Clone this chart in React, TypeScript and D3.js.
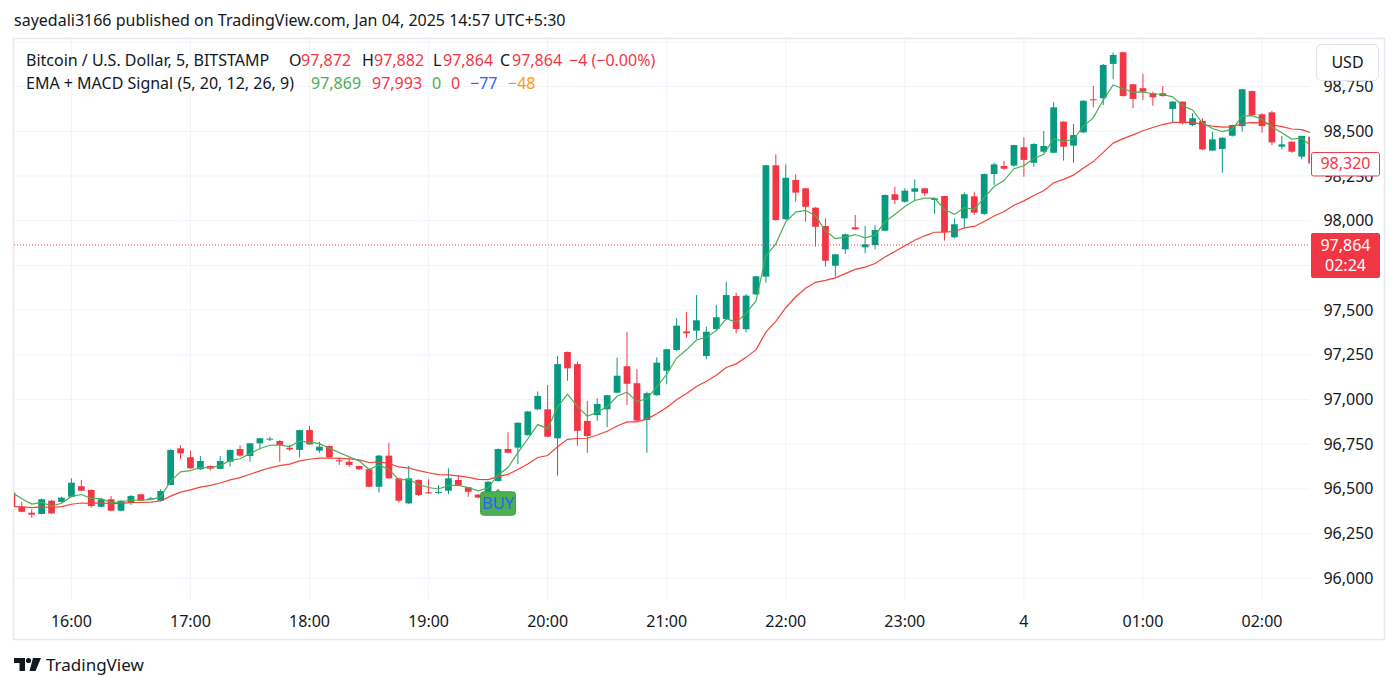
import React from 'react';
import * as d3 from 'd3';

// ---- data (5-minute BTC/USD bars) ----
const START_TIME = new Date(2025, 0, 3, 15, 30);
const BAR_MINUTES = 5;

const OPEN = [
  96480, 96400, 96367, 96360, 96434, 96427, 96456, 96515, 96494, 96400, 96442, 96378, 96423, 96470, 96440, 96434,
  96522, 96727, 96677, 96610, 96628, 96612, 96652, 96723, 96684, 96755, 96778, 96768, 96730, 96718, 96829, 96714,
  96740, 96660, 96652, 96628, 96610, 96512, 96686, 96559, 96419, 96550, 96481, 96478, 96490, 96550, 96509, 96468,
  96453, 96544, 96723, 96731, 96801, 96945, 96945, 96783, 97266, 97198, 96880, 96913, 96945, 97038, 97186, 97091,
  96885, 97024, 97161, 97277, 97381, 97385, 97243, 97394, 97450, 97579, 97393, 97588, 97687, 98310, 98008, 98228,
  98181, 98073, 97970, 97748, 97840, 97963, 97851, 97864, 97944, 98148, 98106, 98162, 98181, 98116, 98138, 97907,
  98013, 98136, 98038, 98261, 98306, 98308, 98411, 98324, 98386, 98380, 98554, 98420, 98494, 98679, 98685, 98877,
  98942, 98763, 98741, 98713, 98713, 98625, 98666, 98535, 98558, 98392, 98401, 98475, 98529, 98725, 98595, 98606,
  98414, 98442, 98358, 98470,
];
const HIGH = [
  96490, 96428, 96386, 96447, 96438, 96456, 96559, 96550, 96498, 96447, 96460, 96436, 96466, 96473, 96455, 96498,
  96721, 96745, 96714, 96684, 96630, 96684, 96720, 96744, 96757, 96785, 96792, 96773, 96745, 96831, 96852, 96764,
  96742, 96677, 96677, 96630, 96615, 96690, 96758, 96562, 96628, 96554, 96554, 96522, 96615, 96578, 96511, 96471,
  96543, 96726, 96817, 96872, 96936, 97045, 97081, 97243, 97268, 97211, 96992, 97007, 97026, 97234, 97378, 97171,
  97044, 97236, 97283, 97454, 97489, 97584, 97407, 97529, 97659, 97597, 97590, 97691, 98312, 98371, 98315, 98260,
  98183, 98075, 98013, 97814, 97929, 98032, 97970, 97976, 98146, 98190, 98181, 98232, 98183, 98127, 98140, 98013,
  98158, 98162, 98265, 98324, 98334, 98425, 98467, 98433, 98502, 98662, 98556, 98541, 98673, 98755, 98877, 98940,
  98945, 98765, 98821, 98722, 98753, 98668, 98668, 98601, 98573, 98498, 98466, 98537, 98737, 98727, 98601, 98615,
  98474, 98444, 98476, 98478,
];
const LOW = [
  96395, 96369, 96339, 96358, 96360, 96423, 96453, 96487, 96395, 96396, 96376, 96375, 96410, 96432, 96438, 96431,
  96520, 96667, 96611, 96606, 96602, 96610, 96624, 96680, 96652, 96721, 96768, 96652, 96712, 96677, 96746, 96702,
  96671, 96634, 96624, 96606, 96509, 96479, 96557, 96423, 96416, 96460, 96473, 96471, 96470, 96516, 96456, 96448,
  96450, 96540, 96699, 96639, 96797, 96941, 96789, 96574, 97105, 96742, 96702, 96880, 96845, 97035, 96969, 96878,
  96702, 97021, 97085, 97271, 97346, 97337, 97225, 97389, 97446, 97370, 97376, 97584, 97653, 97998, 98004, 98106,
  97994, 97855, 97743, 97687, 97814, 97950, 97818, 97840, 97942, 98092, 98101, 98116, 98140, 98038, 97889, 97902,
  97959, 98032, 98032, 98200, 98284, 98302, 98246, 98302, 98380, 98377, 98336, 98324, 98489, 98634, 98647, 98791,
  98694, 98629, 98675, 98643, 98694, 98548, 98539, 98529, 98395, 98390, 98268, 98470, 98498, 98586, 98492, 98423,
  98399, 98380, 98343, 98300,
];
const CLOSE = [
  96400, 96372, 96356, 96442, 96363, 96451, 96535, 96490, 96404, 96442, 96378, 96434, 96460, 96434, 96447, 96488,
  96718, 96699, 96615, 96656, 96613, 96656, 96718, 96686, 96755, 96783, 96781, 96746, 96721, 96829, 96749, 96736,
  96677, 96654, 96634, 96610, 96512, 96686, 96559, 96434, 96559, 96466, 96475, 96483, 96559, 96520, 96484, 96451,
  96540, 96723, 96702, 96870, 96933, 97020, 96792, 97198, 97174, 96825, 96796, 96975, 97024, 97133, 97088, 96882,
  97035, 97206, 97281, 97413, 97370, 97443, 97379, 97460, 97584, 97394, 97581, 97689, 98310, 98004, 98240, 98157,
  98078, 97966, 97776, 97812, 97924, 97952, 97868, 97948, 98144, 98116, 98168, 98181, 98153, 98125, 97937, 97980,
  98148, 98045, 98261, 98315, 98291, 98423, 98340, 98429, 98418, 98634, 98414, 98479, 98671, 98675, 98871, 98927,
  98697, 98681, 98722, 98690, 98697, 98666, 98545, 98573, 98399, 98455, 98464, 98535, 98735, 98591, 98529, 98438,
  98427, 98386, 98474, 98320,
];

const EMA_FAST_PERIOD = 5;
const EMA_SLOW_PERIOD = 20;
const EMA_FAST_SEED = 96481; // fast EMA value at first bar
const EMA_SLOW_SEED = 96402; // slow EMA value at first bar

const PRICE_TICKS = [96000, 96250, 96500, 96750, 97000, 97250, 97500, 97750, 98000, 98250, 98500, 98750, 99000];
const LAST_PRICE = 97864;
const LAST_PRICE_TIMER = '02:24';
const LAST_VISIBLE_PRICE = 98320;
const BUY_BAR = 49;

const HEADER = 'sayedali3166 published on TradingView.com, Jan 04, 2025 14:57 UTC+5:30';
const SYMBOL_TITLE = 'Bitcoin / U.S. Dollar, 5, BITSTAMP';
const OHLC_LABELS = ['O', 'H', 'L', 'C'];
const OHLC_VALUES = ['97,872', '97,882', '97,864', '97,864'];
const CHANGE_TEXT = '−4 (−0.00%)';
const INDICATOR_TITLE = 'EMA + MACD Signal (5, 20, 12, 26, 9)';
const INDICATOR_VALUES = ['97,869', '97,993', '0', '0', '−77', '−48'];

// ---- styles ----
const FONT = "'Noto Sans', 'Liberation Sans', sans-serif";
const UP = '#089981';
const DOWN = '#f23645';
const TEXT = '#131722';
const GRID = '#f0f3fa';
const FAST_COLOR = '#4caf50';
const SLOW_COLOR = '#f44336';
const IND_COLORS = ['#4caf50', '#f23645', '#4caf50', '#f23645', '#2962ff', '#ff9800'];

const PANE = { left: 14, top: 39, right: 1310, bottom: 600 };

function ema(values: number[], period: number, seed: number): number[] {
  const k = 2 / (period + 1);
  let e = seed;
  return values.map((v, i) => {
    if (i === 0) return e;
    e = e + k * (v - e);
    return e;
  });
}

export default function App() {
  const times = CLOSE.map((_, i) => new Date(START_TIME.getTime() + i * BAR_MINUTES * 60000));
  const x = d3
    .scaleTime()
    .domain([new Date(2025, 0, 3, 16, 0), new Date(2025, 0, 4, 2, 0)])
    .range([71.4, 1262]);
  const y = d3.scaleLinear().domain([96000, 98000]).range([578.3, 220.7]);

  const barStep = x(new Date(2025, 0, 3, 16, 5)) - x(new Date(2025, 0, 3, 16, 0));
  const bodyW = barStep * 0.68;

  const fast = ema(CLOSE, EMA_FAST_PERIOD, EMA_FAST_SEED);
  const slow = ema(CLOSE, EMA_SLOW_PERIOD, EMA_SLOW_SEED);
  const line = d3
    .line<number>()
    .x((_, i) => x(times[i]))
    .y((d) => y(d));

  const hourTicks = x.ticks(d3.timeHour.every(1) as any);
  const fmtHour = d3.timeFormat('%H:%M');
  const fmtPrice = d3.format(',');

  const buyX = x(times[BUY_BAR]);
  const buyTop = y(LOW[BUY_BAR]) + 7;

  const lastY = y(LAST_PRICE);
  const visY = y(LAST_VISIBLE_PRICE);
  const lastBox = { top: lastY - 12, bottom: lastY + 33 };

  // axis labels fully hidden behind the last-price box are not drawn (as in the reference)
  const axisTicks = PRICE_TICKS.filter(
    (p) => y(p) > 60 && !(y(p) - 7 > lastBox.top && y(p) + 7 < lastBox.bottom)
  );

  const ohlcX = [289, 362, 433, 500];
  const ohlcValX = [301, 374, 443, 512];
  const indX = [311, 372, 432, 451, 470, 508];

  return (
    <svg
      width={1400}
      height={690}
      style={{ position: 'absolute', left: 0, top: 0, background: '#fff' }}
      fontFamily={FONT}
    >
      <defs>
        <clipPath id="pane">
          <rect x={PANE.left} y={PANE.top} width={PANE.right - PANE.left} height={PANE.bottom - PANE.top} />
        </clipPath>
      </defs>
      <rect x={0} y={0} width={1400} height={690} fill="#fff" />

      {/* header */}
      <text x={14} y={26} fontSize={16} fill={TEXT}>
        {HEADER}
      </text>

      {/* frame */}
      <rect x={13.5} y={38.5} width={1371} height={601} fill="none" stroke="#e6e8ee" strokeWidth={1.5} />

      {/* grid */}
      <g clipPath="url(#pane)">
        {PRICE_TICKS.map((p) => (
          <line key={p} x1={PANE.left} x2={PANE.right} y1={y(p)} y2={y(p)} stroke={GRID} strokeWidth={1} />
        ))}
        {hourTicks.map((t) => (
          <line key={+t} x1={x(t)} x2={x(t)} y1={PANE.top} y2={PANE.bottom} stroke={GRID} strokeWidth={1} />
        ))}
      </g>

      {/* candles + EMAs */}
      <g clipPath="url(#pane)">
        {CLOSE.map((c, i) => {
          const o = OPEN[i];
          const up = c >= o;
          const col = up ? UP : DOWN;
          const cx = x(times[i]);
          const top = y(Math.max(o, c));
          const bot = y(Math.min(o, c));
          return (
            <g key={i}>
              <line x1={cx} x2={cx} y1={y(HIGH[i])} y2={y(LOW[i])} stroke={col} strokeWidth={1} />
              <rect x={cx - bodyW / 2} y={top} width={bodyW} height={Math.max(1, bot - top)} fill={col} />
            </g>
          );
        })}
        <path d={line(slow) || ''} fill="none" stroke={SLOW_COLOR} strokeWidth={1.2} />
        <path d={line(fast) || ''} fill="none" stroke={FAST_COLOR} strokeWidth={1.2} />
        <line
          x1={PANE.left}
          x2={PANE.right}
          y1={lastY}
          y2={lastY}
          stroke={DOWN}
          strokeWidth={1}
          strokeDasharray="1 2"
        />
      </g>

      {/* BUY label */}
      <g>
        <path
          d={`M${buyX - 3},${buyTop + 3} L${buyX},${buyTop} L${buyX + 3},${buyTop + 3} Z`}
          fill="#4caf50"
        />
        <rect x={buyX - 17.5} y={buyTop + 3} width={35} height={23.5} rx={3} fill="#4caf50" stroke="#43a047" />
        <text x={buyX} y={buyTop + 20.5} fontSize={16.5} fill="#2962ff" textAnchor="middle">
          BUY
        </text>
      </g>

      {/* legend */}
      <g fontSize={16}>
        <text x={26} y={65.5} fill={TEXT}>
          {SYMBOL_TITLE}
        </text>
        {OHLC_LABELS.map((l, i) => (
          <g key={l}>
            <text x={ohlcX[i]} y={65.5} fill={TEXT}>
              {l}
            </text>
            <text x={ohlcValX[i]} y={65.5} fill={DOWN}>
              {OHLC_VALUES[i]}
            </text>
          </g>
        ))}
        <text x={569} y={65.5} fill={DOWN}>
          {CHANGE_TEXT}
        </text>
        <text x={26} y={89} fill={TEXT}>
          {INDICATOR_TITLE}
        </text>
        {INDICATOR_VALUES.map((v, i) => (
          <text key={i} x={indX[i]} y={89} fill={IND_COLORS[i]}>
            {v}
          </text>
        ))}
      </g>

      {/* price axis */}
      <g fontSize={16} fill={TEXT}>
        {axisTicks.map((p) => (
          <text key={p} x={1348.5} y={y(p) + 5.5} textAnchor="middle">
            {fmtPrice(p)}
          </text>
        ))}
      </g>
      <rect x={1316.5} y={44.5} width={62} height={36} rx={5} fill="#fff" stroke="#e0e3eb" />
      <text x={1347.5} y={68} fontSize={16} textAnchor="middle" fill={TEXT}>
        USD
      </text>

      <rect x={1311.5} y={visY - 11} width={68} height={23.5} rx={2} fill="#fff" stroke={DOWN} />
      <text x={1345.5} y={visY + 6} fontSize={16} textAnchor="middle" fill={DOWN}>
        {fmtPrice(LAST_VISIBLE_PRICE)}
      </text>

      <rect x={1311} y={lastBox.top} width={69} height={lastBox.bottom - lastBox.top} rx={2} fill={DOWN} />
      <text x={1345.5} y={lastY + 6} fontSize={16} textAnchor="middle" fill="#fff">
        {fmtPrice(LAST_PRICE)}
      </text>
      <text x={1345.5} y={lastY + 26} fontSize={16} textAnchor="middle" fill="#fff">
        {LAST_PRICE_TIMER}
      </text>

      {/* time axis */}
      <g fontSize={16} fill={TEXT}>
        {hourTicks.map((t) => (
          <text key={+t} x={x(t)} y={627} textAnchor="middle">
            {t.getHours() === 0 ? String(t.getDate()) : fmtHour(t)}
          </text>
        ))}
      </g>

      {/* logo */}
      <g fill={TEXT}>
        <path d="M14,658 H25 V671 H19.5 V663 H14 Z" />
        <circle cx={28.5} cy={660.5} r={2.6} />
        <path d="M33,658 H41 L35.5,671 H29.5 Z" />
        <text x={46} y={671} fontSize={17}>
          TradingView
        </text>
      </g>
    </svg>
  );
}
